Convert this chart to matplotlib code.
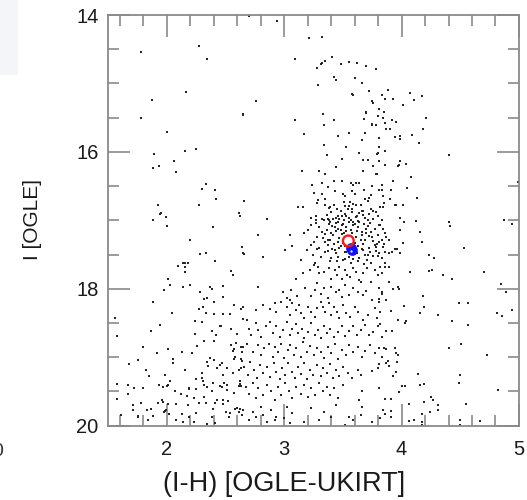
import matplotlib
matplotlib.use("Agg")
import matplotlib.pyplot as plt
from matplotlib.ticker import MultipleLocator
from matplotlib.patches import Rectangle

plt.rcParams['font.family'] = ['Liberation Sans', 'DejaVu Sans']

# ---- data: (I-H, I) pairs ----
stars_upper_left = [
    (2.27, 14.46), (1.78, 14.54), (2.34, 14.65), (2.16, 15.13), (1.87, 15.24), (1.78, 15.51),
    (2.65, 15.45), (2.00, 15.71), (2.15, 15.98), (2.25, 15.96), (1.89, 16.03), (2.06, 16.14),
    (1.88, 16.24), (1.93, 16.21), (2.08, 16.29), (2.33, 16.47), (2.30, 16.54), (2.41, 16.56),
    (2.42, 16.69), (2.66, 16.72), (1.92, 16.78), (2.27, 16.77), (1.95, 16.89), (1.94, 16.91),
    (1.99, 16.95), (1.88, 16.99), (2.61, 16.89), (2.62, 16.94),
]

stars_upper_mid = [
    (2.70, 14.02), (2.94, 14.09), (3.21, 14.33), (3.32, 14.32), (3.09, 14.65), (3.41, 14.62),
    (3.35, 14.67), (3.32, 14.70), (3.31, 14.72), (3.28, 14.78), (3.48, 14.72), (3.55, 14.69),
    (3.62, 14.70), (3.70, 14.745), (3.78, 14.79), (3.42, 14.90), (3.44, 14.945), (3.60, 14.925),
    (3.66, 15.00), (3.29, 15.02), (3.72, 15.115), (3.58, 15.15), (3.59, 15.17), (3.83, 15.17),
    (2.76, 15.26), (3.745, 15.25), (3.76, 15.29), (2.65, 15.46), (3.70, 15.41), (3.70, 15.43),
    (3.80, 15.47), (3.81, 15.38), (3.33, 15.44), (3.09, 15.53), (3.42, 15.54), (3.68, 15.52),
    (3.34, 15.60), (3.75, 15.59), (3.745, 15.60), (3.78, 15.61), (3.17, 15.74), (3.46, 15.77),
    (3.55, 15.73), (3.66, 15.82), (3.69, 15.72), (3.81, 15.79), (3.335, 15.90), (3.53, 15.93),
    (3.79, 16.03), (3.80, 16.02), (3.64, 16.02), (3.36, 16.04), (3.495, 16.11), (3.67, 16.12),
    (3.71, 16.12), (3.81, 16.13), (3.44, 16.22), (3.755, 16.20), (3.15, 16.28), (3.30, 16.28),
    (3.79, 16.32), (3.78, 16.33), (3.67, 16.28), (3.35, 16.33), (3.24, 16.48), (3.32, 16.45),
    (3.42, 16.43), (3.49, 16.42), (3.57, 16.45), (3.59, 16.48), (3.61, 16.46), (3.64, 16.46),
    (3.375, 16.51), (3.75, 16.50), (3.83, 16.49), (3.25, 16.60), (3.32, 16.615), (3.43, 16.57),
    (3.50, 16.62), (3.52, 16.64), (3.58, 16.57), (3.60, 16.61), (3.68, 16.56), (3.74, 16.63),
    (3.81, 16.56), (2.66, 16.72), (3.12, 16.81), (3.16, 16.81), (3.29, 16.71), (3.28, 16.74),
    (3.35, 16.69), (3.35, 16.77), (3.38, 16.82), (3.39, 16.81), (3.42, 16.78), (3.45, 16.84),
    (3.51, 16.73), (3.515, 16.795), (3.54, 16.83), (3.55, 16.795), (3.56, 16.73), (3.58, 16.83),
    (3.59, 16.76), (3.61, 16.78), (3.65, 16.77), (3.69, 16.69), (3.72, 16.68), (3.71, 16.72),
    (3.64, 16.89), (3.67, 16.87), (3.74, 16.83), (3.78, 16.88), (3.84, 16.80), (2.85, 16.975),
    (3.23, 16.96), (3.27, 16.94), (3.27, 17.00), (3.32, 16.975), (3.37, 16.975), (3.38, 17.00),
    (3.415, 16.985), (3.46, 16.94), (3.47, 16.975), (3.49, 16.93), (3.51, 17.00), (3.53, 16.94),
    (3.55, 16.965), (3.57, 17.00), (3.59, 17.02), (3.61, 16.95), (3.63, 17.01), (3.67, 16.92),
    (3.69, 16.96), (3.71, 17.00), (3.76, 16.975), (3.80, 16.94), (3.83, 17.00),
]

stars_upper_right = [
    (3.88, 15.09), (3.83, 15.17), (3.86, 15.22), (3.93, 15.23), (4.07, 15.14), (4.11, 15.24),
    (4.17, 15.19), (4.01, 15.32), (3.85, 15.42), (3.84, 15.50), (3.92, 15.53), (3.95, 15.56),
    (3.86, 15.58), (4.21, 15.51), (3.87, 15.67), (3.90, 15.67), (4.18, 15.67), (3.94, 15.78),
    (3.99, 15.77), (3.99, 15.81), (4.09, 15.75), (4.15, 15.87), (3.81, 15.93), (3.86, 15.99),
    (4.40, 16.04), (3.99, 16.13), (3.86, 16.19), (3.97, 16.21), (3.98, 16.19), (4.04, 16.17),
    (4.08, 16.36), (3.93, 16.42), (4.05, 16.53), (3.83, 16.56), (3.91, 16.56), (3.84, 16.64),
    (3.90, 16.69), (4.13, 16.68), (3.85, 16.75), (3.82, 16.80), (3.94, 16.77), (3.95, 16.77),
    (4.01, 16.77), (4.99, 16.44), (3.99, 16.97), (4.87, 16.99),
]

stars_lower_left = [
    (2.00, 17.08), (2.39, 17.10), (2.20, 17.28), (2.28, 17.49), (2.33, 17.47), (2.41, 17.60),
    (2.64, 17.385), (2.66, 17.49), (2.09, 17.67), (2.14, 17.63), (2.15, 17.62), (2.18, 17.63),
    (2.15, 17.68), (2.15, 17.76), (2.55, 17.735), (2.56, 17.80), (2.01, 17.86), (2.03, 17.945),
    (1.975, 18.02), (2.14, 17.98), (2.20, 17.94), (2.28, 18.05), (2.32, 18.15), (2.34, 18.13),
    (2.37, 17.97), (2.38, 18.01), (2.40, 18.20), (2.48, 17.965), (2.48, 18.115), (1.88, 18.20),
    (2.04, 18.36), (2.27, 18.30), (2.31, 18.27), (2.33, 18.35), (2.40, 18.37), (2.48, 18.37),
    (2.54, 18.37), (2.57, 18.23), (2.63, 18.30), (2.65, 18.44), (1.555, 18.43), (1.57, 18.69),
    (1.86, 18.62), (1.94, 18.535), (2.24, 18.465), (2.30, 18.48), (2.24, 18.66), (2.38, 18.62),
    (2.45, 18.55), (2.46, 18.55), (2.42, 18.68), (2.55, 18.58), (2.60, 18.665), (1.80, 18.855),
    (1.915, 18.94), (2.26, 18.83), (2.32, 18.76), (2.40, 18.76), (2.55, 18.825), (2.57, 18.88),
    (2.56, 18.91), (2.59, 18.79), (2.63, 18.845), (2.64, 18.92), (1.68, 19.095), (1.75, 19.04),
    (2.01, 18.875), (2.05, 19.03), (2.05, 19.08), (2.13, 18.92), (2.21, 18.94), (2.15, 19.18),
    (2.25, 19.32), (2.30, 19.31), (2.30, 19.225), (2.34, 19.075), (2.35, 19.13), (2.37, 19.01),
    (2.40, 19.04), (2.43, 19.15), (2.45, 19.12), (2.47, 19.09), (2.48, 19.26), (2.51, 19.16),
    (2.56, 19.225), (2.57, 19.03), (2.58, 19.00), (2.61, 19.18), (2.63, 19.15), (2.63, 19.03),
    (2.64, 19.06), (2.62, 19.35), (2.63, 19.42), (1.57, 19.385), (1.67, 19.40), (1.72, 19.455),
    (1.67, 19.54), (1.57, 19.61), (1.82, 19.18), (1.85, 19.275), (1.80, 19.445), (1.93, 19.40),
    (1.97, 19.43), (2.00, 19.415), (2.01, 19.40), (2.03, 19.35), (1.98, 19.265), (2.07, 19.49),
    (2.12, 19.54), (2.17, 19.56), (2.19, 19.455), (2.19, 19.47), (2.23, 19.59), (2.25, 19.47),
    (2.31, 19.34), (2.32, 19.405), (2.34, 19.43), (2.38, 19.49), (2.39, 19.38), (2.45, 19.42),
    (2.47, 19.435), (2.49, 19.38), (2.51, 19.405), (2.51, 19.48), (2.57, 19.52), (2.61, 19.415),
    (2.62, 19.39), (1.71, 19.70), (1.71, 19.77), (1.78, 19.67), (1.75, 19.855), (1.75, 19.88),
    (1.84, 19.91), (1.83, 19.775), (1.86, 19.75), (1.88, 19.86), (1.92, 19.67), (1.96, 19.63),
    (1.97, 19.65), (1.975, 19.80), (1.98, 19.785), (1.99, 19.775), (2.01, 19.69), (2.02, 19.835),
    (2.08, 19.69), (2.08, 19.92), (2.13, 19.825), (2.14, 19.94), (2.18, 19.70), (2.19, 19.87),
    (2.23, 19.94), (2.25, 19.82), (2.27, 19.665), (2.32, 19.58), (2.33, 19.665), (2.34, 19.975),
    (2.38, 19.88), (2.39, 19.75), (2.41, 19.965), (2.41, 19.665), (2.43, 19.63), (2.48, 19.625),
    (2.48, 19.69), (2.52, 19.64), (2.50, 19.805), (2.53, 19.87), (2.54, 19.82), (2.58, 19.75),
    (2.60, 19.745), (2.61, 19.805), (2.62, 19.75), (2.64, 19.85), (1.605, 19.84),
]

stars_lower_mid = [
    (2.78, 17.22), (3.05, 17.21), (3.17, 17.18), (3.20, 17.14), (3.23, 17.07), (3.27, 17.04),
    (3.30, 17.10), (3.32, 17.17), (3.35, 17.20), (3.39, 17.02), (3.41, 17.08), (3.44, 17.04),
    (3.46, 17.12), (3.48, 17.14), (3.49, 17.07), (3.51, 17.19), (3.53, 17.09), (3.57, 17.14),
    (3.59, 17.07), (3.63, 17.10), (3.66, 17.17), (3.68, 17.05), (3.71, 17.08), (3.74, 17.17),
    (3.77, 17.12), (3.80, 17.21), (3.82, 17.07), (3.33, 17.26), (3.37, 17.29), (3.415, 17.21),
    (3.47, 17.26), (3.50, 17.33), (3.61, 17.24), (3.65, 17.29), (3.685, 17.28), (3.72, 17.23),
    (3.755, 17.30), (3.79, 17.34), (3.83, 17.28),
    (2.65, 17.48), (2.82, 17.54), (3.01, 17.43), (3.07, 17.375), (3.145, 17.58), (3.19, 17.43),
    (3.225, 17.36), (3.245, 17.51), (3.26, 17.63), (3.28, 17.42), (3.315, 17.53), (3.35, 17.46),
    (3.37, 17.36), (3.39, 17.59), (3.41, 17.42), (3.44, 17.48), (3.46, 17.54), (3.48, 17.38),
    (3.50, 17.58), (3.515, 17.46), (3.55, 17.53), (3.585, 17.57), (3.61, 17.48), (3.64, 17.555),
    (3.665, 17.42), (3.685, 17.51), (3.705, 17.58), (3.73, 17.46), (3.76, 17.52), (3.785, 17.385),
    (3.81, 17.48), (3.835, 17.555), (3.74, 17.63),
    (3.10, 17.85), (3.16, 17.775), (3.22, 17.725), (3.25, 17.65), (3.29, 17.68), (3.30, 17.775),
    (3.34, 17.75), (3.38, 17.70), (3.40, 17.85), (3.43, 17.725), (3.45, 17.80), (3.47, 17.68),
    (3.49, 17.86), (3.515, 17.725), (3.535, 17.80), (3.56, 17.825), (3.585, 17.70), (3.61, 17.75),
    (3.64, 17.87), (3.65, 17.895), (3.67, 17.775), (3.705, 17.70), (3.74, 17.895), (3.77, 17.725),
    (3.80, 17.80), (3.82, 17.68),
    (2.78, 17.98), (2.99, 18.04), (3.02, 18.14), (3.06, 18.02), (3.18, 17.99), (3.23, 18.105),
    (3.26, 18.02), (3.28, 17.92), (3.315, 18.07), (3.34, 17.99), (3.37, 18.14), (3.40, 17.97),
    (3.44, 18.04), (3.47, 18.02), (3.49, 18.115), (3.515, 17.945), (3.55, 18.09), (3.585, 17.99),
    (3.63, 18.04), (3.67, 18.09), (3.70, 18.03), (3.75, 18.16), (3.81, 18.15), (3.83, 18.04),
    (3.05, 18.16), (3.11, 18.105),
    (2.65, 18.26), (2.76, 18.31), (2.82, 18.24), (2.875, 18.29), (2.92, 18.21), (2.93, 18.335),
    (2.97, 18.19), (3.02, 18.27), (3.05, 18.38), (3.07, 18.21), (3.10, 18.31), (3.125, 18.24),
    (3.145, 18.36), (3.17, 18.43), (3.20, 18.26), (3.23, 18.335), (3.26, 18.41), (3.28, 18.285),
    (3.31, 18.20), (3.33, 18.27), (3.35, 18.335), (3.38, 18.21), (3.40, 18.38), (3.42, 18.27),
    (3.45, 18.335), (3.47, 18.43), (3.50, 18.24), (3.53, 18.36), (3.56, 18.41), (3.60, 18.27),
    (3.63, 18.335), (3.67, 18.455), (3.71, 18.38), (3.77, 18.285), (3.79, 18.43), (3.82, 18.335),
    (2.68, 18.455), (2.70, 18.58), (2.72, 18.675), (2.76, 18.505), (2.78, 18.60), (2.80, 18.70),
    (2.84, 18.55), (2.875, 18.48), (2.90, 18.65), (2.93, 18.545), (2.96, 18.71), (2.99, 18.60),
    (3.02, 18.48), (3.05, 18.675), (3.07, 18.58), (3.10, 18.515), (3.12, 18.65), (3.15, 18.58),
    (3.17, 18.72), (3.20, 18.63), (3.23, 18.505), (3.26, 18.675), (3.29, 18.60), (3.31, 18.72),
    (3.335, 18.545), (3.36, 18.65), (3.39, 18.58), (3.42, 18.70), (3.46, 18.63), (3.49, 18.545),
    (3.515, 18.69), (3.55, 18.61), (3.585, 18.55), (3.62, 18.675), (3.655, 18.60), (3.69, 18.53),
    (3.72, 18.675), (3.76, 18.63), (3.80, 18.55), (3.83, 18.70),
    (2.65, 18.845), (2.68, 18.80), (2.73, 18.92), (2.78, 18.82), (2.80, 18.97), (2.83, 18.87),
    (2.87, 18.80), (2.90, 18.99), (2.92, 18.845), (2.95, 18.92), (2.975, 18.81), (3.00, 19.015),
    (3.03, 18.895), (3.05, 18.82), (3.08, 18.97), (3.10, 18.87), (3.14, 19.00), (3.16, 18.77),
    (3.19, 18.92), (3.22, 18.835), (3.25, 18.97), (3.28, 18.87), (3.315, 18.92), (3.335, 19.015),
    (3.37, 18.845), (3.40, 18.94), (3.43, 18.81), (3.46, 19.03), (3.495, 18.895), (3.53, 18.97),
    (3.55, 18.82), (3.59, 18.92), (3.63, 18.855), (3.665, 18.99), (3.69, 18.905), (3.73, 18.82),
    (3.77, 18.94), (3.81, 18.87), (3.83, 18.99),
    (2.66, 19.14), (2.69, 19.26), (2.71, 19.065), (2.74, 19.19), (2.77, 19.31), (2.79, 19.11),
    (2.82, 19.235), (2.85, 19.14), (2.88, 19.285), (2.91, 19.09), (2.93, 19.21), (2.96, 19.32),
    (2.98, 19.16), (3.01, 19.26), (3.03, 19.09), (3.07, 19.21), (3.09, 19.31), (3.12, 19.14),
    (3.145, 19.245), (3.17, 19.08), (3.19, 19.32), (3.22, 19.18), (3.245, 19.26), (3.28, 19.11),
    (3.31, 19.28), (3.33, 19.16), (3.36, 19.235), (3.39, 19.10), (3.415, 19.31), (3.44, 19.19),
    (3.47, 19.275), (3.50, 19.14), (3.54, 19.225), (3.58, 19.31), (3.63, 19.19), (3.65, 19.26),
    (3.75, 19.195), (3.80, 19.16),
    (2.67, 19.43), (2.70, 19.53), (2.73, 19.38), (2.76, 19.60), (2.78, 19.455), (2.82, 19.55),
    (2.85, 19.405), (2.89, 19.50), (2.92, 19.625), (2.95, 19.43), (2.975, 19.55), (3.01, 19.38),
    (3.04, 19.49), (3.07, 19.60), (3.10, 19.43), (3.14, 19.53), (3.165, 19.405), (3.20, 19.575),
    (3.23, 19.455), (3.26, 19.55), (3.295, 19.38), (3.33, 19.50), (3.36, 19.43), (3.39, 19.55),
    (3.42, 19.455), (3.46, 19.60), (3.50, 19.405), (3.64, 19.625), (3.66, 19.50),
    (2.65, 19.77), (2.70, 19.92), (2.73, 19.795), (2.76, 19.87), (2.80, 19.72), (2.82, 19.845),
    (2.85, 19.94), (2.89, 19.77), (2.92, 19.92), (2.93, 19.87), (2.995, 19.89), (3.02, 19.72),
    (3.05, 19.965), (3.07, 19.82), (3.17, 19.94), (3.23, 19.745), (3.30, 19.91), (3.34, 19.795),
    (3.40, 19.87), (3.44, 19.70), (3.515, 19.99), (3.55, 19.87), (3.585, 19.92), (3.65, 19.845),
    (3.665, 19.72), (3.82, 19.89), (3.75, 19.94),
]

stars_clump_core = [
    (3.36, 16.92), (3.40, 16.88), (3.44, 16.97), (3.48, 16.86), (3.52, 16.90), (3.58, 16.88),
    (3.62, 16.93), (3.66, 16.86), (3.72, 16.91), (3.76, 16.87), (3.34, 17.00), (3.38, 17.05),
    (3.43, 17.10), (3.46, 17.02), (3.50, 17.05), (3.55, 17.03), (3.60, 17.06), (3.64, 17.02),
    (3.70, 17.12), (3.73, 17.04), (3.36, 17.14), (3.40, 17.18), (3.44, 17.16), (3.49, 17.20),
    (3.53, 17.15), (3.58, 17.19), (3.62, 17.15), (3.66, 17.22), (3.70, 17.18), (3.75, 17.24),
    (3.35, 17.32), (3.39, 17.28), (3.42, 17.35), (3.46, 17.31), (3.52, 17.37), (3.60, 17.33),
    (3.63, 17.38), (3.67, 17.34), (3.72, 17.40), (3.77, 17.36), (3.37, 17.45), (3.43, 17.44),
    (3.47, 17.40), (3.53, 17.46), (3.58, 17.43), (3.62, 17.47), (3.67, 17.44), (3.71, 17.50),
    (3.78, 17.45), (3.80, 17.52), (3.40, 17.55), (3.45, 17.60), (3.52, 17.57), (3.57, 17.62),
    (3.63, 17.60), (3.68, 17.64), (3.30, 17.40), (3.28, 17.25), (3.25, 17.32), (3.85, 17.35),
]

stars_lower_right = [
    (3.81, 17.07), (3.84, 17.12), (3.86, 17.18), (3.87, 17.24), (3.89, 17.28), (3.81, 17.31),
    (3.84, 17.39), (3.86, 17.46), (3.89, 17.47), (3.92, 17.46), (3.94, 17.42), (3.96, 17.42),
    (3.99, 17.48), (4.01, 17.335), (4.02, 17.03), (3.99, 17.14), (3.83, 17.555), (3.86, 17.62),
    (3.89, 17.68), (3.86, 17.68), (3.835, 17.77), (3.89, 17.895), (3.81, 17.99), (3.83, 18.07),
    (3.93, 18.00), (3.97, 17.98), (3.98, 18.00), (3.87, 18.17), (3.81, 18.19), (3.91, 18.32),
    (3.97, 18.45), (4.04, 18.47), (4.03, 18.505), (3.82, 18.515), (3.87, 18.61), (3.92, 18.61),
    (4.02, 18.25), (4.12, 17.01), (4.16, 17.165), (4.17, 17.32), (4.23, 17.50), (4.28, 17.545),
    (4.07, 17.75), (4.23, 17.735), (4.26, 17.725), (4.35, 17.80), (4.43, 17.86), (4.53, 17.41),
    (4.40, 17.02), (4.41, 17.08), (4.70, 17.76), (4.85, 17.925), (4.89, 18.04), (4.18, 18.10),
    (4.19, 18.26), (4.16, 18.35), (4.31, 18.38), (4.49, 18.21), (4.57, 18.21), (4.43, 18.465),
    (4.57, 18.53), (4.81, 18.36), (4.86, 18.40), (4.94, 18.315), (4.40, 18.86), (4.51, 18.81),
    (4.73, 18.97), (3.85, 18.86), (3.87, 18.875), (3.94, 18.86), (3.95, 18.935), (3.97, 18.96),
    (3.81, 19.10), (3.87, 19.09), (3.89, 19.13), (3.88, 19.055), (3.96, 19.075), (3.95, 19.22),
    (3.93, 19.275), (4.14, 19.25), (4.50, 19.255), (4.00, 19.42), (4.03, 19.42), (3.98, 19.51),
    (4.16, 19.405), (4.19, 19.385), (4.49, 19.37), (4.82, 19.48), (3.86, 19.615), (3.91, 19.615),
    (4.06, 19.68), (4.19, 19.65), (4.25, 19.575), (4.27, 19.63), (4.31, 19.70), (4.31, 19.765),
    (4.24, 19.80), (4.55, 19.69), (3.84, 19.77), (3.91, 19.78), (3.86, 19.835), (3.91, 19.88),
    (4.17, 19.835), (4.06, 19.93), (4.11, 19.91), (4.17, 19.94), (4.17, 19.99), (4.50, 19.91),
    (4.67, 19.93), (4.50, 19.995), (3.81, 19.455), (4.94, 17.05),
]

# target measurements
source_open = (3.546, 17.30)      # red open circle
source_filled = [(3.565, 17.40), (3.575, 17.44)]  # blue filled markers

# axis set-up
x_range = (1.5, 5.0)
y_range = (20.0, 14.0)
x_ticks = [2, 3, 4, 5]
y_ticks = [14, 16, 18, 20]
x_label = "(I-H) [OGLE-UKIRT]"
y_label = "I [OGLE]"

fig = plt.figure(figsize=(5.27, 5.0), dpi=100)
# faint fragment of a neighbouring panel at the left edge
fig.patches.append(Rectangle((0, 1 - 75 / 500), 18 / 527, 75 / 500,
                             transform=fig.transFigure, color='#f3f5f8', lw=0))
# partial tick label of the neighbouring panel, cut by the left edge as in the reference
fig.text(-0.004, 1 - 452 / 500, "0", fontsize=14, ha='center', va='center', color='#333333')

ax = fig.add_axes([108.3 / 527, 1 - 425.7 / 500, 410.6 / 527, 410.7 / 500])

groups = [stars_upper_left, stars_upper_mid, stars_upper_right,
          stars_lower_left, stars_lower_mid, stars_clump_core, stars_lower_right]
for g in groups:
    xs = [p[0] for p in g]
    ys = [p[1] for p in g]
    ax.scatter(xs, ys, s=2.0, marker='s', color='#262626', linewidths=0, zorder=2)

ax.scatter([p[0] for p in source_filled], [p[1] for p in source_filled], s=60,
           color='#1010ff', linewidths=0, zorder=3)
ax.scatter([source_filled[0][0] + 0.005], [source_filled[0][1] + 0.05], s=3,
           color='#d0d8ff', linewidths=0, zorder=4)
ax.scatter([source_open[0]], [source_open[1]], s=60, facecolors='none',
           edgecolors='#ff1a1a', linewidths=1.7, zorder=5)

ax.set_xlim(*x_range)
ax.set_ylim(*y_range)
ax.set_xticks(x_ticks)
ax.set_yticks(y_ticks)
ax.xaxis.set_minor_locator(MultipleLocator(0.2))
ax.yaxis.set_minor_locator(MultipleLocator(0.5))

spine_col = '#8a8a8a'
for s in ax.spines.values():
    s.set_color(spine_col)
    s.set_linewidth(1.3)
ax.tick_params(which='both', direction='in', top=True, right=True, color=spine_col,
               width=1.2, labelsize=14.5, labelcolor='#1a1a1a')
ax.tick_params(which='major', length=15.5)
ax.tick_params(which='minor', length=8)
ax.tick_params(axis='x', which='major', pad=10)
ax.tick_params(axis='y', which='major', pad=7)

fig.text(284 / 527, 1 - 484 / 500, x_label, fontsize=19.5, ha='center', va='center',
         color='#1a1a1a')
fig.text(32.5 / 527, 1 - 220 / 500, y_label, fontsize=15, ha='center', va='center',
         rotation=90, color='#1a1a1a')

fig.savefig("out.png", dpi=100)
